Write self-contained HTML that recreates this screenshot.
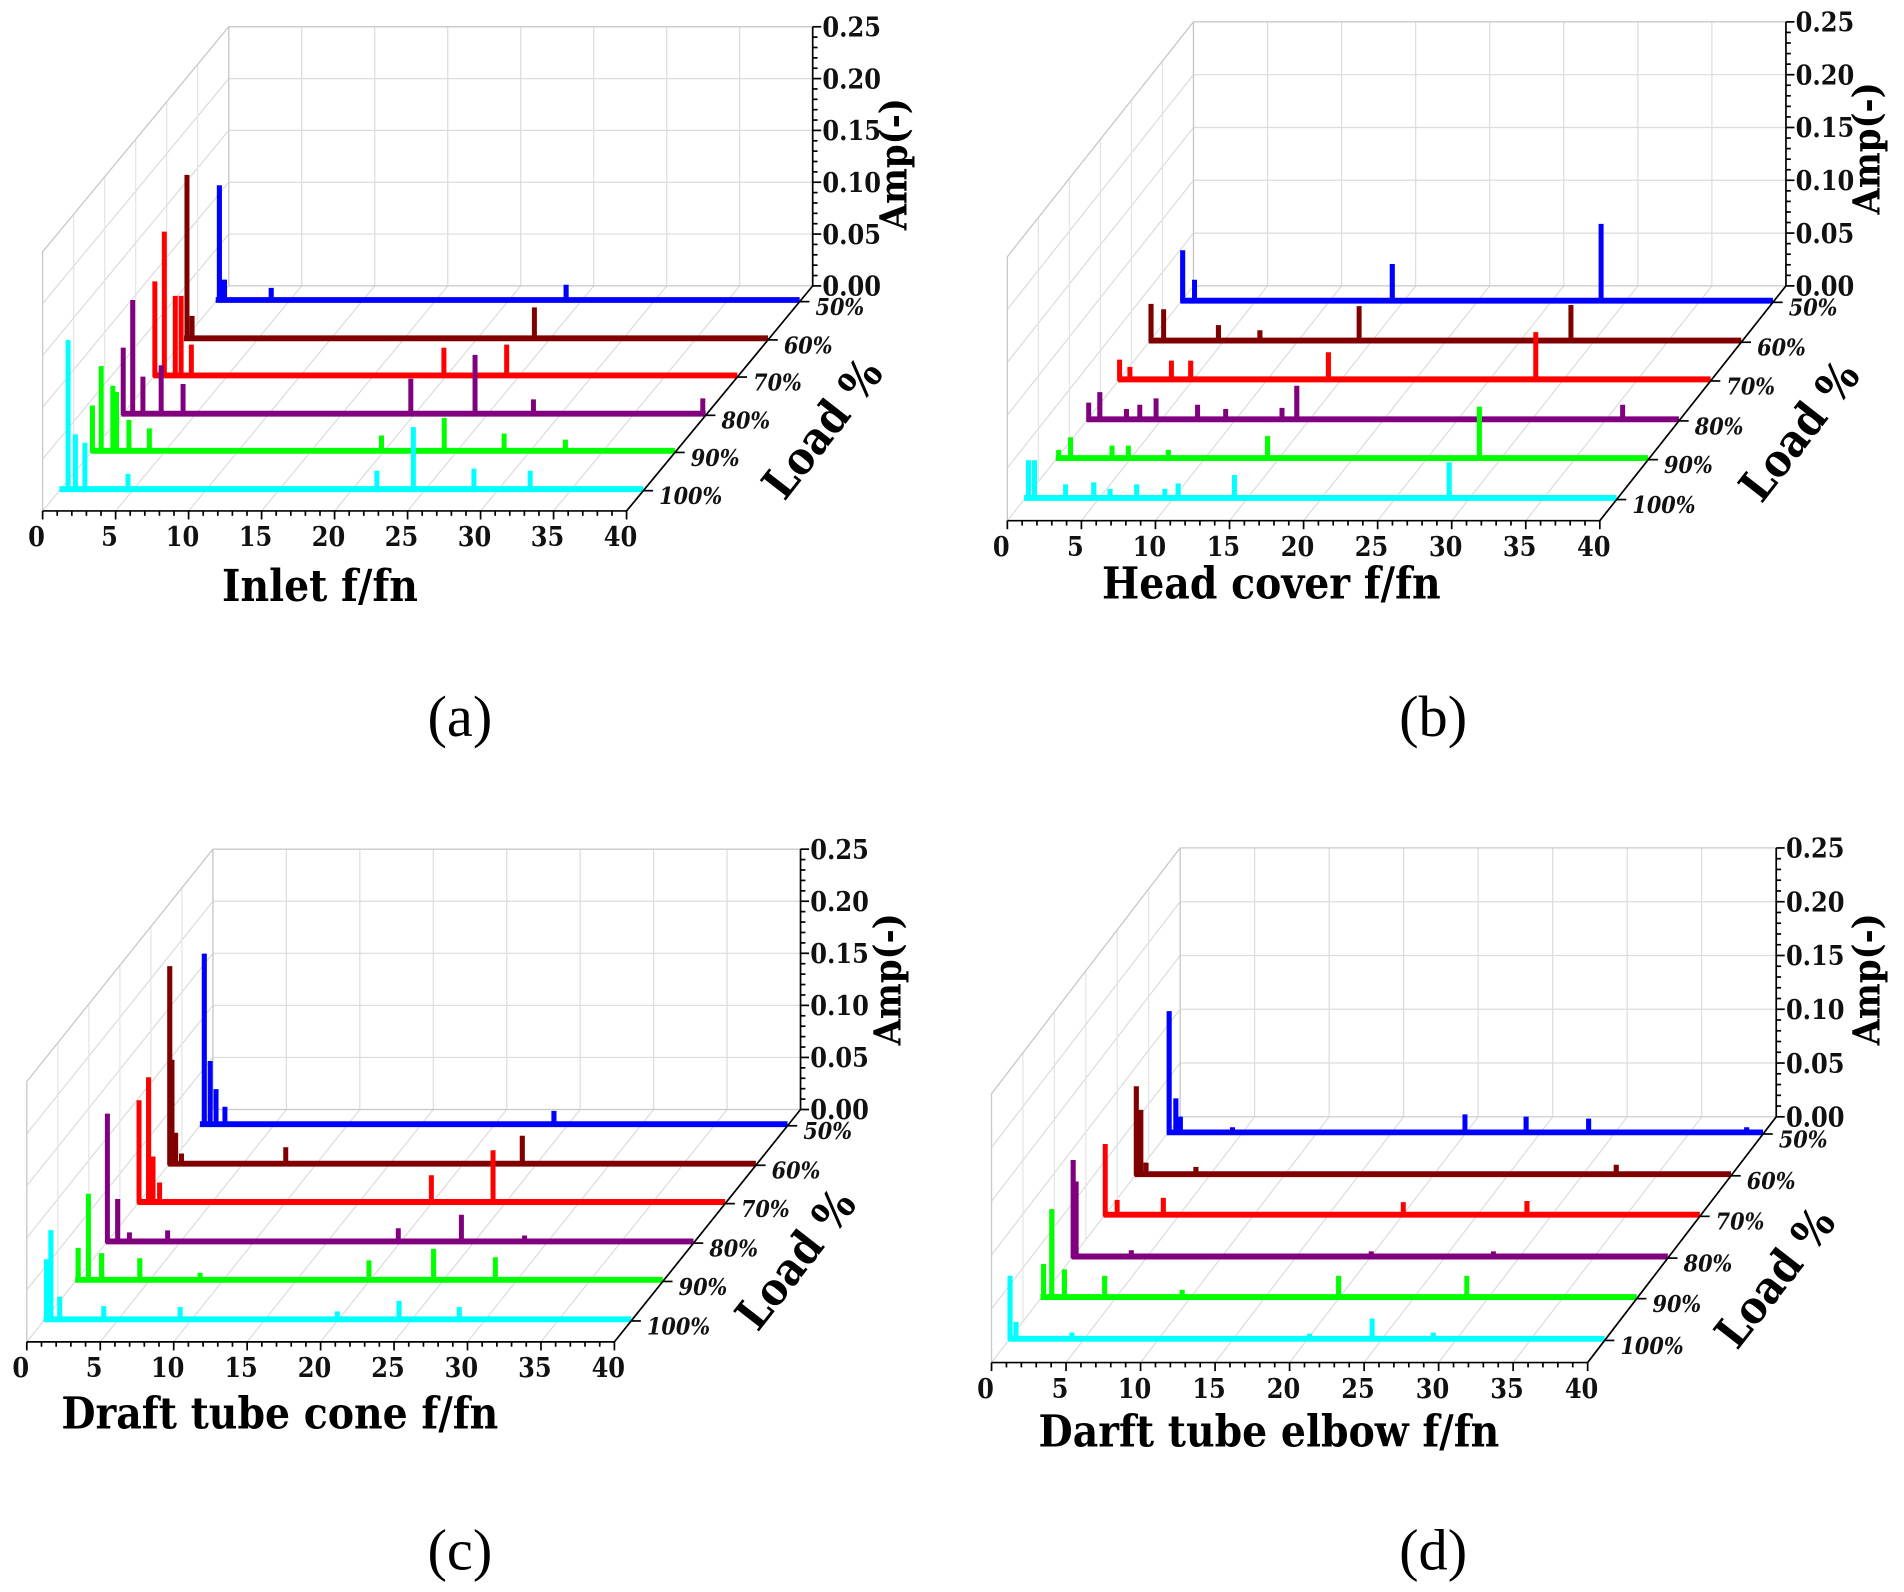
<!DOCTYPE html>
<html><head><meta charset="utf-8">
<style>
html,body{margin:0;padding:0;background:#fff;}
svg{display:block;}
.tk{font-family:"DejaVu Serif Condensed","DejaVu Serif","Liberation Serif",serif;font-weight:bold;font-size:22px;fill:#111;}
.ld{font-family:"DejaVu Serif Condensed","DejaVu Serif",serif;font-weight:bold;font-style:italic;font-size:19px;fill:#111;}
.ttl{font-family:"DejaVu Serif Condensed","DejaVu Serif",serif;font-weight:bold;font-size:36px;fill:#000;}
.cap{font-family:"Liberation Serif",serif;font-size:48px;fill:#000;}
</style></head>
<body>
<svg id="fig" width="1904" height="1592" viewBox="0 0 1565 1308.6" xmlns="http://www.w3.org/2000/svg"></svg>
<script>
const loads = ["100%","90%","80%","70%","60%","50%"];
const seriesColors = ["#00ffff","#00ff00","#800080","#ff0000","#800000","#0000ff"];
const freqTicks = [0,5,10,15,20,25,30,35,40];
const ampTicks = ["0.00","0.05","0.10","0.15","0.20","0.25"];

// peaks [f/fn, amplitude] per load: 100%,90%,80%,70%,60%,50%
const inletPeaks = [
 [[0.6,0.144],[1.1,0.053],[1.75,0.045],[4.7,0.015],[21.75,0.018],[24.25,0.06],[28.4,0.02],[32.25,0.018]],
 [[0.1,0.044],[0.7,0.082],[1.5,0.063],[1.75,0.057],[2.6,0.03],[4.0,0.022],[19.9,0.015],[24.2,0.032],[28.3,0.017],[32.5,0.011]],
 [[0.1,0.064],[0.75,0.11],[1.45,0.036],[2.7,0.047],[4.2,0.029],[19.8,0.034],[24.2,0.057],[28.2,0.014],[39.8,0.015]],
 [[0.1,0.091],[0.75,0.139],[1.5,0.077],[1.9,0.077],[2.6,0.03],[19.9,0.027],[24.2,0.03]],
 [[0.2,0.158],[0.55,0.022],[24.0,0.03]],
 [[0.25,0.111],[0.6,0.02],[3.8,0.012],[24.0,0.015]]
];
const headPeaks = [
 [[0.3,0.036],[0.7,0.036],[2.8,0.013],[4.7,0.015],[5.8,0.009],[7.6,0.013],[9.5,0.009],[10.4,0.014],[14.2,0.022],[28.7,0.034]],
 [[0.2,0.008],[1.0,0.02],[3.8,0.012],[4.9,0.012],[7.6,0.008],[14.3,0.021],[28.6,0.049]],
 [[0.15,0.016],[0.9,0.026],[2.7,0.01],[3.6,0.014],[4.7,0.02],[7.5,0.014],[9.4,0.01],[13.2,0.011],[14.2,0.032],[36.2,0.014]],
 [[0.1,0.019],[0.8,0.012],[3.6,0.018],[4.9,0.018],[14.2,0.026],[28.2,0.045]],
 [[0.15,0.035],[1.0,0.03],[4.7,0.015],[7.5,0.01],[14.2,0.033],[28.5,0.034]],
 [[0.15,0.048],[0.95,0.02],[14.3,0.035],[28.4,0.073]]
];
const conePeaks = [
 [[0.2,0.058],[0.5,0.086],[1.1,0.022],[4.1,0.013],[9.3,0.012],[20,0.008],[24.2,0.018],[28.3,0.012]],
 [[0.2,0.031],[0.9,0.083],[1.8,0.026],[4.4,0.021],[8.5,0.007],[20,0.019],[24.4,0.03],[28.6,0.022]],
 [[0.1,0.123],[0.8,0.041],[1.6,0.009],[4.2,0.011],[19.9,0.013],[24.2,0.026],[28.5,0.006]],
 [[0.1,0.098],[0.75,0.12],[1.05,0.044],[1.5,0.019],[20,0.026],[24.2,0.05]],
 [[0.1,0.19],[0.25,0.1],[0.5,0.03],[0.9,0.01],[8,0.016],[24.1,0.027]],
 [[0.3,0.164],[0.7,0.061],[1.1,0.034],[1.7,0.017],[24.1,0.013]]
];
const elbowPeaks = [
 [[0.1,0.059],[0.5,0.016],[4.25,0.006],[20.2,0.005],[24.4,0.019],[28.5,0.006]],
 [[0.2,0.031],[0.75,0.082],[1.6,0.026],[4.3,0.02],[9.5,0.007],[20,0.02],[28.6,0.02]],
 [[0.1,0.09],[0.3,0.07],[4,0.006],[20.1,0.005],[28.3,0.005]],
 [[0.1,0.066],[0.9,0.014],[4,0.016],[20.1,0.012],[28.4,0.013]],
 [[0.1,0.082],[0.4,0.06],[0.75,0.011],[4.1,0.007],[32.3,0.009]],
 [[0.15,0.113],[0.6,0.032],[0.9,0.015],[4.4,0.005],[20,0.017],[24.1,0.015],[28.3,0.013],[38.9,0.005]]
];
const rowDepth = [0.09,0.26,0.425,0.595,0.76,0.93];

const NS="http://www.w3.org/2000/svg";
const svg=document.getElementById('fig');
function mk(tag,attrs,parent){const e=document.createElementNS(NS,tag);for(const k in attrs)e.setAttribute(k,attrs[k]);(parent||svg).appendChild(e);return e;}

const panels=[
 {key:'a',peaks:inletPeaks,fx:35,fy:420,fw:480,dx:153,dy:-185,amp:852,title:"Inlet f/fn",tx:263,ty:494,cap:"(a)",cx:378,cy:605,ampX:745,ampY:135,loadX:686,loadY:360},
 {key:'b',peaks:headPeaks,fx:828,fy:428,fw:487,dx:153,dy:-193,amp:868,title:"Head cover f/fn",tx:1045,ty:492,cap:"(b)",cx:1178,cy:605,ampX:1545,ampY:122,loadX:1489,loadY:362},
 {key:'c',peaks:conePeaks,fx:22,fy:1103,fw:483,dx:153,dy:-191,amp:856,title:"Draft tube cone f/fn",tx:230,ty:1174,cap:"(c)",cx:378,cy:1290,ampX:740,ampY:805,loadX:664,loadY:1043},
 {key:'d',peaks:elbowPeaks,fx:815,fy:1120,fw:490,dx:155,dy:-202,amp:884,title:"Darft tube elbow f/fn",tx:1043,ty:1189,cap:"(d)",cx:1178,cy:1290,ampX:1545,ampY:805,loadX:1469,loadY:1058}
];

panels.forEach(p=>{
 const g=mk('g',{});
 
 
 const sx=f=>p.fw*f/40;
 const P=(f,t,a)=>[p.fx+sx(f)+p.dx*t, p.fy+p.dy*t-a*p.amp];
 const grid=mk('g',{stroke:'#dcdcdc','stroke-width':1,fill:'none'},g);
 
 
 freqTicks.forEach(f=>{const a=P(f,1,0),b=P(f,1,0.25);mk('line',{x1:a[0],y1:a[1],x2:b[0],y2:b[1]},grid);});
 for(let i=1;i<=5;i++){const v=i*0.05;
  const a=P(0,1,v),b=P(40,1,v);mk('line',{x1:a[0],y1:a[1],x2:b[0],y2:b[1]},grid);
  const c=P(0,0,v);mk('line',{x1:c[0],y1:c[1],x2:a[0],y2:a[1]},grid);}
 freqTicks.forEach(f=>{const a=P(f,0,0),b=P(f,1,0);mk('line',{x1:a[0],y1:a[1],x2:b[0],y2:b[1]},grid);});
 for(let i=0;i<=6;i++){const t=i/6;const a=P(0,t,0),b=P(0,t,0.25);mk('line',{x1:a[0],y1:a[1],x2:b[0],y2:b[1],stroke:'#e4e4e4'},grid);}
 const c0=P(0,0,0),c1=P(0,0,0.25),c2=P(0,1,0.25),c3=P(40,1,0.25),c4=P(0,1,0);
 mk('polyline',{points:`${c0} ${c1} ${c2} ${c3}`,stroke:'#c8c8c8'},grid);
 mk('line',{x1:c4[0],y1:c4[1],x2:c2[0],y2:c2[1],stroke:'#c8c8c8'},grid);
 const fb0=P(0,1,0),fb1=P(40,1,0);
 mk('line',{x1:fb0[0],y1:fb0[1],x2:fb1[0],y2:fb1[1],stroke:'#c8c8c8'},grid);

 for(let r=5;r>=0;r--){
  const t=rowDepth[r];
  const pk=p.peaks[r].slice().sort((u,v)=>u[0]-v[0]);
  const b0=P(0,t,0),b1=P(40,t,0);
  const base=mk('line',{x1:b0[0],y1:b0[1]-1.5,x2:b1[0],y2:b1[1]-1.5,stroke:seriesColors[r],'stroke-width':4.5},g);
  
  
  let pts=[P(0,t,0)];
  pk.forEach(([f,a])=>{const w=0.08;const f0=Math.max(0,f-w);
   pts.push(P(f0,t,0),P(f0,t,a),P(f+w,t,a),P(f+w,t,0));});
  pts.push(P(40,t,0));
  const path=mk('polyline',{points:pts.map(q=>q[0].toFixed(1)+','+q[1].toFixed(1)).join(' '),fill:'none',stroke:seriesColors[r],'stroke-width':2.2,'stroke-linejoin':'miter'},g);
  
  
 }

 const ax=mk('g',{stroke:'#000','stroke-width':1.4,fill:'none'},g);
 
 
 const f0=P(0,0,0),f40=P(40,0,0),b40=P(40,1,0),b40t=P(40,1,0.25);
 mk('line',{x1:f0[0],y1:f0[1],x2:f40[0],y2:f40[1]},ax);
 mk('line',{x1:f40[0],y1:f40[1],x2:b40[0],y2:b40[1]},ax);
 mk('line',{x1:b40[0],y1:b40[1],x2:b40t[0],y2:b40t[1]},ax);
 for(let f=0;f<=40;f+=1){const q=P(f,0,0);const L=(f%5===0)?7:4;mk('line',{x1:q[0],y1:q[1],x2:q[0],y2:q[1]+L},ax);}
 for(let i=0;i<=25;i++){const q=P(40,1,i*0.01);const L=(i%5===0)?7:4;mk('line',{x1:q[0],y1:q[1],x2:q[0]+L,y2:q[1]},ax);}
 rowDepth.forEach(t=>{const q=P(40,t,0);mk('line',{x1:q[0],y1:q[1],x2:q[0]+8,y2:q[1]},ax);});

 freqTicks.forEach(f=>{const q=P(f,0,0);const tx=mk('text',{x:q[0]-5,y:q[1]+29,'text-anchor':'middle',class:'tk'},g);
  
  
  tx.textContent=String(f);});
 ampTicks.forEach((s,i)=>{const q=P(40,1,i*0.05);const tx=mk('text',{x:q[0]+8,y:q[1]+8,class:'tk'},g);
  
  
  tx.textContent=s;});
 loads.forEach((s,r)=>{const q=P(40,rowDepth[r],0);const tx=mk('text',{x:q[0]+13,y:q[1]+11,class:'ld'},g);
  
  
  tx.textContent=s;});

 const tt=mk('text',{x:p.tx,y:p.ty,'text-anchor':'middle',class:'ttl'},g);
 
 
 tt.textContent=p.title;
 const at=mk('text',{x:0,y:0,'text-anchor':'middle',class:'ttl',style:'font-size:31px',transform:`translate(${p.ampX},${p.ampY}) rotate(-90)`},g);
 
 
 at.textContent="Amp(-)";
 const lt=mk('text',{x:0,y:0,'text-anchor':'middle',class:'ttl',style:'font-size:37px',transform:`translate(${p.loadX},${p.loadY}) rotate(-52)`},g);
 
 
 lt.textContent="Load %";
 const cp=mk('text',{x:p.cx,y:p.cy,'text-anchor':'middle',class:'cap'},g);
 
 
 cp.textContent=p.cap;
});
</script>
</body></html>
